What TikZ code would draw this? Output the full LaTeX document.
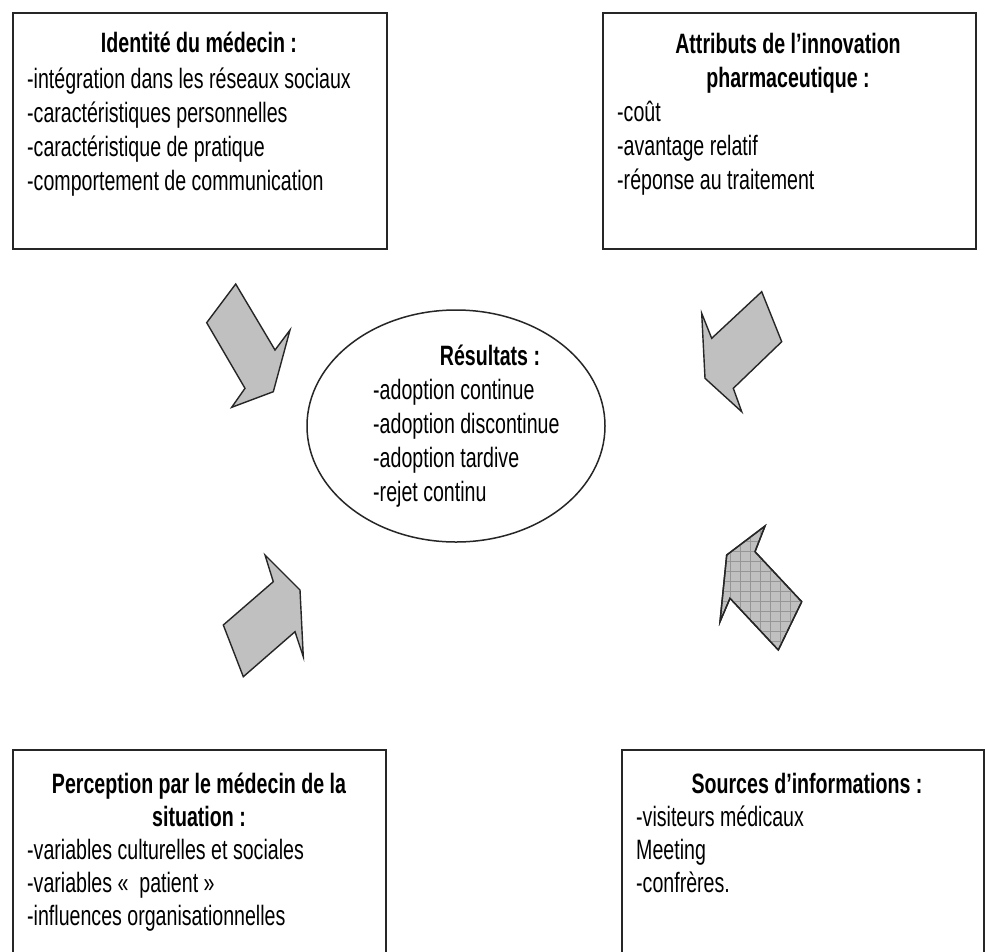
\documentclass[tikz,border=0pt]{standalone}
\usepackage{fontspec}
\setmainfont[FakeStretch=0.70]{Liberation Sans}
\usetikzlibrary{shapes.geometric,patterns.meta}
\definecolor{arrowgray}{RGB}{192,192,192}
\definecolor{hatchgray}{RGB}{150,150,150}
\tikzset{
  box/.style={draw=black!85, line width=1.6pt, anchor=north west, inner sep=0pt},
  txt/.style={anchor=base west, inner sep=0pt, font=\fontsize{28}{32}\selectfont},
  ttl/.style={anchor=base, inner sep=0pt, font=\bfseries\fontsize{28}{32}\selectfont},
  blockarrow/.style={draw=black!85, line width=1.4pt, fill=arrowgray, line join=miter},
}
\begin{document}
\begin{tikzpicture}[x=1pt,y=-1pt]
\clip (0,0) rectangle (985,951);
\fill[white] (0,0) rectangle (985,951);
% boxes
\node[box, minimum width=374pt, minimum height=236pt] (b1) at (12,12) {};
\node[box, minimum width=373pt, minimum height=236pt] (b2) at (602,12) {};
\node[box, minimum width=373pt, minimum height=260pt] (b3) at (12,749) {};
\node[box, minimum width=362pt, minimum height=260pt] (b4) at (621,749) {};
% ellipse
\node[ellipse, draw=black!85, line width=1.5pt, minimum width=298pt, minimum height=232pt, inner sep=0pt] (res) at (456,426) {};
% box 1 text
\node[ttl] (t1) at (199,52) {Identité du médecin :};
\node[txt] (t1a) at (27,88) {-intégration dans les réseaux sociaux};
\node[txt] (t1b) at (27,122) {-caractéristiques personnelles};
\node[txt] (t1c) at (27,156) {-caractéristique de pratique};
\node[txt] (t1d) at (27,190) {-comportement de communication};
% box 2 text
\node[ttl] (t2) at (788,53) {Attributs de l’innovation};
\node[ttl] (t2x) at (788,87) {pharmaceutique :};
\node[txt] (t2a) at (617,121) {-coût};
\node[txt] (t2b) at (617,155) {-avantage relatif};
\node[txt] (t2c) at (617,189) {-réponse au traitement};
% box 3 text
\node[ttl] (t3) at (199,793) {Perception par le médecin de la};
\node[ttl] (t3x) at (199,826) {situation :};
\node[txt] (t3a) at (27,859) {-variables culturelles et sociales};
\node[txt] (t3b) at (27,892) {-variables «~ patient »};
\node[txt] (t3c) at (27,925) {-influences organisationnelles};
% box 4 text
\node[ttl] (t4) at (807,793) {Sources d’informations :};
\node[txt] (t4a) at (636,826) {-visiteurs médicaux};
\node[txt] (t4b) at (636,859) {Meeting};
\node[txt] (t4c) at (636,892) {-confrères.};
% ellipse text
\node[ttl] (r0) at (490,365) {Résultats :};
\node[txt] (r1) at (373,399) {-adoption continue};
\node[txt] (r2) at (373,433) {-adoption discontinue};
\node[txt] (r3) at (373,467) {-adoption tardive};
\node[txt] (r4) at (373,501) {-rejet continu};
% block arrows
\draw[blockarrow] (235.7,284) -- (275,350) -- (290,330) -- (273.3,391.7) -- (231.7,407.3) -- (245,388.3) -- (206.7,322.7) -- cycle;
\draw[blockarrow] (761.7,291.7) -- (781.7,341.7) -- (733.3,388.3) -- (741.7,411.7) -- (705,378.3) -- (701.7,313.3) -- (711.7,338.3) -- cycle;
\draw[blockarrow] (265,555) -- (300,590) -- (303.3,656.7) -- (295,631.7) -- (243.3,676.7) -- (223.3,625) -- (273.3,581.7) -- cycle;
\draw[blockarrow] (765,526) -- (755,551.7) -- (801.7,601.7) -- (778.3,650) -- (730,598.3) -- (720,621.7) -- (726.7,555) -- cycle;
\fill[pattern={Lines[angle=0,distance=10pt,line width=0.7pt]}, pattern color=hatchgray] (765,526) -- (755,551.7) -- (801.7,601.7) -- (778.3,650) -- (730,598.3) -- (720,621.7) -- (726.7,555) -- cycle;
\fill[pattern={Lines[angle=90,distance=10pt,line width=0.7pt]}, pattern color=hatchgray] (765,526) -- (755,551.7) -- (801.7,601.7) -- (778.3,650) -- (730,598.3) -- (720,621.7) -- (726.7,555) -- cycle;
\draw[draw=black!85, line width=1.4pt, line join=miter] (765,526) -- (755,551.7) -- (801.7,601.7) -- (778.3,650) -- (730,598.3) -- (720,621.7) -- (726.7,555) -- cycle;
\end{tikzpicture}
\end{document}
